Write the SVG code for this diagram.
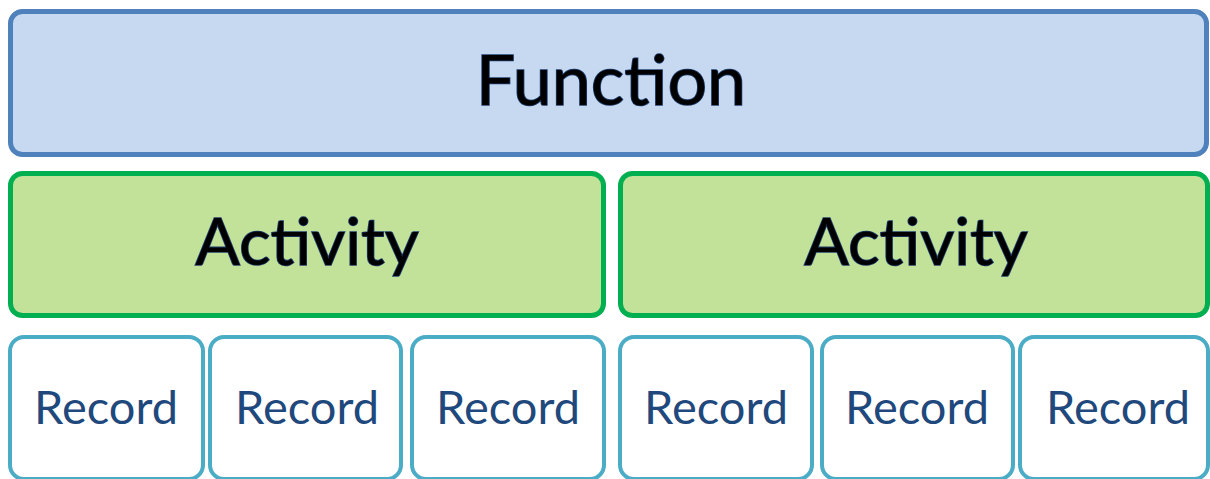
<svg xmlns="http://www.w3.org/2000/svg" width="1210" height="479" viewBox="0 0 1210 479">
<style>
.fn{fill:#c6d9f1;stroke:#4f81bd;stroke-width:5}
.act{fill:#c2e29a;stroke:#00b050;stroke-width:5}
.rec{fill:#ffffff;stroke:#4bacc6;stroke-width:4}
.big{font-family:Lato,"Open Sans",sans-serif;fill:#000;stroke:#1f3f6e;stroke-width:1.6;paint-order:stroke;text-anchor:middle}
.rt{font-family:Lato,"Open Sans",sans-serif;fill:#1f497d;text-anchor:middle;font-size:47px}
</style>
<rect width="1210" height="479" fill="#ffffff"/>
<g id="function">
<rect class="fn" x="10.5" y="11.5" width="1196" height="143" rx="12"/>
<text class="big" x="611" y="105" font-size="70">Function</text>
</g>
<g id="activity1">
<rect class="act" x="10.5" y="173.5" width="593" height="142" rx="12"/>
<text class="big" x="307" y="265" font-size="66">Activity</text>
</g>
<g id="activity2">
<rect class="act" x="620.5" y="173.5" width="587" height="142" rx="12"/>
<text class="big" x="916" y="265" font-size="66">Activity</text>
</g>
<g id="record1"><rect class="rec" x="10" y="337" width="193" height="142" rx="14"/><text class="rt" x="106" y="424">Record</text></g>
<g id="record2"><rect class="rec" x="210" y="337" width="191" height="142" rx="14"/><text class="rt" x="307" y="424">Record</text></g>
<g id="record3"><rect class="rec" x="412" y="337" width="192" height="142" rx="14"/><text class="rt" x="508" y="424">Record</text></g>
<g id="record4"><rect class="rec" x="620" y="337" width="192" height="142" rx="14"/><text class="rt" x="716" y="424">Record</text></g>
<g id="record5"><rect class="rec" x="822" y="337" width="191" height="142" rx="14"/><text class="rt" x="917" y="424">Record</text></g>
<g id="record6"><rect class="rec" x="1020" y="337" width="188" height="142" rx="14"/><text class="rt" x="1118" y="424">Record</text></g>
<g id="connectors"/>
</svg>
